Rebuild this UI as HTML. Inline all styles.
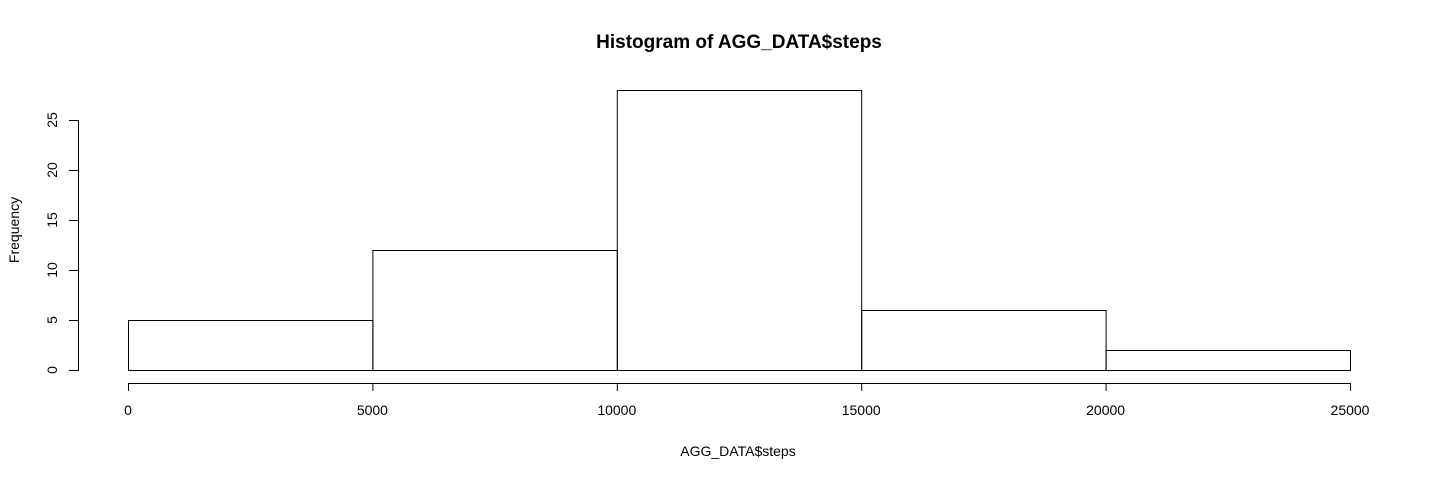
<!DOCTYPE html>
<html><head><meta charset="utf-8"><style>
html,body{margin:0;padding:0;background:#fff;}
svg text{font-family:"Liberation Sans",Arial,sans-serif;fill:#000;}
</style></head><body>
<svg id="chart" width="1440" height="480" viewBox="0 0 1440 480" xmlns="http://www.w3.org/2000/svg">
<text x="739" y="48" text-anchor="middle" font-size="19" font-weight="bold">Histogram of AGG_DATA$steps</text>
<text x="738" y="456" text-anchor="middle" font-size="14">AGG_DATA$steps</text>
<text transform="translate(19,230) rotate(-90)" text-anchor="middle" font-size="14">Frequency</text>
<g id="bars"></g><g id="xaxis"></g><g id="yaxis"></g>
</svg>
<script>
const breaks = [0, 5000, 10000, 15000, 20000, 25000];
const counts = [5, 12, 28, 6, 2];
const xTicks = [0, 5000, 10000, 15000, 20000, 25000];
const yTicks = [0, 5, 10, 15, 20, 25];
const NS = "http://www.w3.org/2000/svg";
const xs = v => 128 + (v - 0) / 25000 * 1222;
const ys = v => 370 - v * 10;
function mk(tag, attrs, parent){const e=document.createElementNS(NS,tag);for(const k in attrs)e.setAttribute(k,attrs[k]);parent.appendChild(e);return e;}
const bars=document.getElementById('bars');
counts.forEach((c,i)=>{
  const x0=xs(breaks[i]),x1=xs(breaks[i+1]);
  const r=mk('rect',{x:x0+0.5,y:ys(c)+0.5,width:x1-x0,height:ys(0)-ys(c),fill:'none',stroke:'#000','stroke-width':1},bars);
  
  
});
const xa=document.getElementById('xaxis');


mk('line',{x1:xs(xTicks[0]),x2:xs(xTicks[xTicks.length-1])+1,y1:383.5,y2:383.5,stroke:'#000'},xa);
xTicks.forEach(t=>{
  mk('line',{x1:xs(t)+0.5,x2:xs(t)+0.5,y1:383,y2:391,stroke:'#000'},xa);
  const tx=mk('text',{x:xs(t),y:415,'text-anchor':'middle','font-size':14},xa);
  tx.textContent=t;
  
  
});
const ya=document.getElementById('yaxis');


mk('line',{x1:78.5,x2:78.5,y1:ys(yTicks[0])+1,y2:ys(yTicks[yTicks.length-1]),stroke:'#000'},ya);
yTicks.forEach(t=>{
  mk('line',{x1:69,x2:79,y1:ys(t)+0.5,y2:ys(t)+0.5,stroke:'#000'},ya);
  const tx=mk('text',{transform:'translate(57,'+ys(t)+') rotate(-90)','text-anchor':'middle','font-size':14},ya);
  tx.textContent=t;
  
  
});
</script>
</body></html>
